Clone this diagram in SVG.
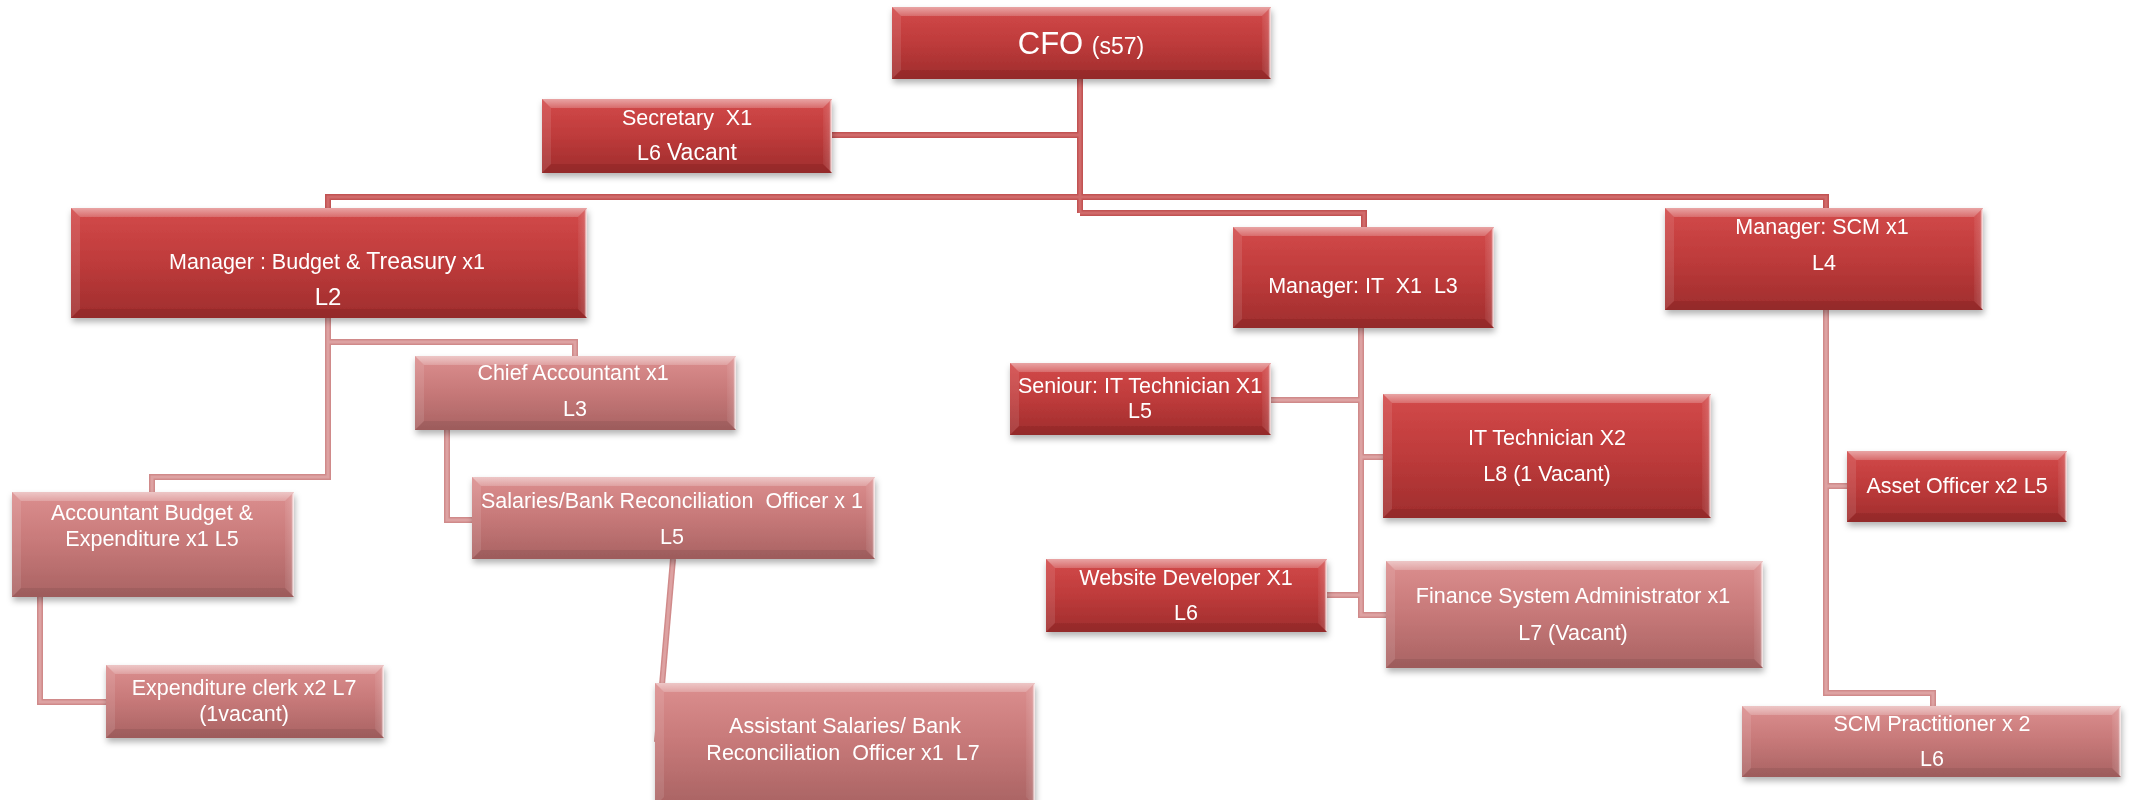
<svg xmlns="http://www.w3.org/2000/svg" xmlns:xlink="http://www.w3.org/1999/xlink" width="2132" height="800" viewBox="0 0 2132 800">
  <style>
    .face-r { fill: url(#gRed); }
    .face-p { fill: url(#gPink); }
    .bt { fill: url(#gTop); }
    .bl { fill: #ffffff; fill-opacity: 0.10; }
    .br { fill: url(#gRight); }
    .bb { fill: #000000; fill-opacity: 0.07; }
    .node { filter: url(#shadow); }
    .t { font-family: "Liberation Sans", Arial, sans-serif; font-size: 21.5px; fill: #ffffff; text-anchor: middle; }
    .big { font-size: 24px; }
    .hi-o { fill: none; stroke: #c25353; stroke-width: 6; stroke-linejoin: miter; }
    .hi-i { fill: none; stroke: #d06a6a; stroke-width: 3; }
    .lo-o { fill: none; stroke: #d08a8a; stroke-width: 6; stroke-linejoin: miter; }
    .lo-i { fill: none; stroke: #dda2a2; stroke-width: 3; }
  </style>
  <defs>
    <linearGradient id="gRed" x1="0" y1="0" x2="0" y2="1">
      <stop offset="0" stop-color="#d34a4a"/>
      <stop offset="0.5" stop-color="#be3b3b"/>
      <stop offset="1" stop-color="#9f2d2d"/>
    </linearGradient>
    <linearGradient id="gPink" x1="0" y1="0" x2="0" y2="1">
      <stop offset="0" stop-color="#dc8f8f"/>
      <stop offset="0.5" stop-color="#c67878"/>
      <stop offset="1" stop-color="#a96363"/>
    </linearGradient>
    <linearGradient id="gTop" x1="0" y1="0" x2="0" y2="1">
      <stop offset="0" stop-color="#ffffff" stop-opacity="0.5"/>
      <stop offset="1" stop-color="#ffffff" stop-opacity="0.2"/>
    </linearGradient>
    <linearGradient id="gRight" x1="0" y1="0" x2="1" y2="0">
      <stop offset="0" stop-color="#ffffff" stop-opacity="0.05"/>
      <stop offset="0.7" stop-color="#ffffff" stop-opacity="0.15"/>
      <stop offset="0.85" stop-color="#ffffff" stop-opacity="0.6"/>
      <stop offset="1" stop-color="#ffffff" stop-opacity="0.9"/>
    </linearGradient>
    <filter id="shadow" x="-5%" y="-10%" width="110%" height="130%">
      <feDropShadow dx="1" dy="4" stdDeviation="3" flood-color="#000000" flood-opacity="0.3"/>
    </filter>

    <!-- connector routes -->
    <path id="k-trunk" d="M1080,79 V213"/>
    <path id="k-sec" d="M832,135 H1080"/>
    <path id="k-bar" d="M328,208 V197 H1826 V208"/>
    <path id="k-it" d="M1080,213 H1364 V227"/>
    <path id="k-acc" d="M328,318 V477 H152 V492"/>
    <path id="k-chief" d="M328,342 H575 V356"/>
    <path id="k-sal" d="M447,430 V520 H472"/>
    <path id="k-asst" d="M673,559 L657,742"/>
    <path id="k-exp" d="M40,597 V702 H106"/>
    <path id="k-itv" d="M1361,328 V615 H1386"/>
    <path id="k-sen" d="M1271,400 H1361"/>
    <path id="k-itt" d="M1361,457 H1383"/>
    <path id="k-web" d="M1327,595 H1361"/>
    <path id="k-scm" d="M1826,310 V693 H1933 V706"/>
    <path id="k-asset" d="M1826,486 H1847"/>
  </defs>

  <rect width="2132" height="800" fill="#ffffff"/>

  <g id="connectors">
    <g class="hi-o">
      <use xlink:href="#k-trunk"/><use xlink:href="#k-sec"/><use xlink:href="#k-bar"/><use xlink:href="#k-it"/>
    </g>
    <g class="hi-i">
      <use xlink:href="#k-trunk"/><use xlink:href="#k-sec"/><use xlink:href="#k-bar"/><use xlink:href="#k-it"/>
    </g>
    <g class="lo-o">
      <use xlink:href="#k-acc"/><use xlink:href="#k-chief"/><use xlink:href="#k-sal"/><use xlink:href="#k-asst"/>
      <use xlink:href="#k-exp"/><use xlink:href="#k-itv"/><use xlink:href="#k-sen"/><use xlink:href="#k-itt"/>
      <use xlink:href="#k-web"/><use xlink:href="#k-scm"/><use xlink:href="#k-asset"/>
    </g>
    <g class="lo-i">
      <use xlink:href="#k-acc"/><use xlink:href="#k-chief"/><use xlink:href="#k-sal"/><use xlink:href="#k-asst"/>
      <use xlink:href="#k-exp"/><use xlink:href="#k-itv"/><use xlink:href="#k-sen"/><use xlink:href="#k-itt"/>
      <use xlink:href="#k-web"/><use xlink:href="#k-scm"/><use xlink:href="#k-asset"/>
    </g>
  </g>

  <!-- CFO -->
  <g id="cfo" class="node">
    <rect class="face-r" x="892" y="7" width="379" height="72"/>
    <polygon class="bt" points="892,7 1271,7 1262,16 901,16"/>
    <polygon class="bl" points="892,7 901,16 901,70 892,79"/>
    <polygon class="br" points="1262,16 1271,7 1271,79 1262,70"/>
    <polygon class="bb" points="892,79 901,70 1262,70 1271,79"/>
    <text class="t" x="1081" y="54"><tspan font-size="31">CFO </tspan><tspan font-size="23">(s57)</tspan></text>
  </g>

  <!-- Secretary -->
  <g id="secretary" class="node">
    <rect class="face-r" x="542" y="99" width="290" height="74"/>
    <polygon class="bt" points="542,99 832,99 823,108 551,108"/>
    <polygon class="bl" points="542,99 551,108 551,164 542,173"/>
    <polygon class="br" points="823,108 832,99 832,173 823,164"/>
    <polygon class="bb" points="542,173 551,164 823,164 832,173"/>
    <text class="t" x="687" y="125" xml:space="preserve">Secretary  X1</text>
    <text class="t" x="687" y="160">L6 <tspan font-size="23">Vacant</tspan></text>
  </g>

  <!-- Manager : Budget & Treasury -->
  <g id="mgr-budget" class="node">
    <rect class="face-r" x="71" y="208" width="516" height="110"/>
    <polygon class="bt" points="71,208 587,208 578,217 80,217"/>
    <polygon class="bl" points="71,208 80,217 80,309 71,318"/>
    <polygon class="br" points="578,217 587,208 587,318 578,309"/>
    <polygon class="bb" points="71,318 80,309 578,309 587,318"/>
    <text class="t" x="327" y="269">Manager : Budget &amp; <tspan font-size="23">Treasury</tspan> x1</text>
    <text class="t big" x="328" y="305">L2</text>
  </g>

  <!-- Chief Accountant -->
  <g id="chief-accountant" class="node">
    <rect class="face-p" x="415" y="356" width="321" height="74"/>
    <polygon class="bt" points="415,356 736,356 727,365 424,365"/>
    <polygon class="bl" points="415,356 424,365 424,421 415,430"/>
    <polygon class="br" points="727,365 736,356 736,430 727,421"/>
    <polygon class="bb" points="415,430 424,421 727,421 736,430"/>
    <text class="t" x="573" y="380">Chief Accountant x1</text>
    <text class="t" x="575" y="416">L3</text>
  </g>

  <!-- Salaries / Bank Reconciliation Officer -->
  <g id="salaries-officer" class="node">
    <rect class="face-p" x="472" y="477" width="403" height="82"/>
    <polygon class="bt" points="472,477 875,477 866,486 481,486"/>
    <polygon class="bl" points="472,477 481,486 481,550 472,559"/>
    <polygon class="br" points="866,486 875,477 875,559 866,550"/>
    <polygon class="bb" points="472,559 481,550 866,550 875,559"/>
    <text class="t" x="672" y="508" xml:space="preserve">Salaries/Bank Reconciliation  Officer x 1</text>
    <text class="t" x="672" y="544">L5</text>
  </g>

  <!-- Accountant Budget & Expenditure -->
  <g id="accountant-budget" class="node">
    <rect class="face-p" x="12" y="492" width="282" height="105"/>
    <polygon class="bt" points="12,492 294,492 285,501 21,501"/>
    <polygon class="bl" points="12,492 21,501 21,588 12,597"/>
    <polygon class="br" points="285,501 294,492 294,597 285,588"/>
    <polygon class="bb" points="12,597 21,588 285,588 294,597"/>
    <text class="t" x="152" y="520">Accountant Budget &amp;</text>
    <text class="t" x="152" y="546">Expenditure x1 L5</text>
  </g>

  <!-- Expenditure clerk -->
  <g id="expenditure-clerk" class="node">
    <rect class="face-p" x="106" y="665" width="278" height="73"/>
    <polygon class="bt" points="106,665 384,665 375,674 115,674"/>
    <polygon class="bl" points="106,665 115,674 115,729 106,738"/>
    <polygon class="br" points="375,674 384,665 384,738 375,729"/>
    <polygon class="bb" points="106,738 115,729 375,729 384,738"/>
    <text class="t" x="244" y="695">Expenditure clerk x2 L7</text>
    <text class="t" x="244" y="721">(1vacant)</text>
  </g>

  <!-- Assistant Salaries / Bank Reconciliation Officer -->
  <g id="assistant-salaries" class="node">
    <rect class="face-p" x="655" y="683" width="380" height="123"/>
    <polygon class="bt" points="655,683 1035,683 1026,692 664,692"/>
    <polygon class="bl" points="655,683 664,692 664,797 655,806"/>
    <polygon class="br" points="1026,692 1035,683 1035,806 1026,797"/>
    <text class="t" x="845" y="733">Assistant Salaries/ Bank</text>
    <text class="t" x="843" y="760" xml:space="preserve">Reconciliation  Officer x1  L7</text>
  </g>

  <!-- Manager: IT -->
  <g id="mgr-it" class="node">
    <rect class="face-r" x="1233" y="227" width="261" height="101"/>
    <polygon class="bt" points="1233,227 1494,227 1485,236 1242,236"/>
    <polygon class="bl" points="1233,227 1242,236 1242,319 1233,328"/>
    <polygon class="br" points="1485,236 1494,227 1494,328 1485,319"/>
    <polygon class="bb" points="1233,328 1242,319 1485,319 1494,328"/>
    <text class="t" x="1363" y="293" xml:space="preserve">Manager: IT  X1  L3</text>
  </g>

  <!-- Seniour: IT Technician -->
  <g id="senior-it-tech" class="node">
    <rect class="face-r" x="1010" y="363" width="261" height="72"/>
    <polygon class="bt" points="1010,363 1271,363 1262,372 1019,372"/>
    <polygon class="bl" points="1010,363 1019,372 1019,426 1010,435"/>
    <polygon class="br" points="1262,372 1271,363 1271,435 1262,426"/>
    <polygon class="bb" points="1010,435 1019,426 1262,426 1271,435"/>
    <text class="t" x="1140" y="393">Seniour: IT Technician X1</text>
    <text class="t" x="1140" y="418">L5</text>
  </g>

  <!-- IT Technician -->
  <g id="it-tech" class="node">
    <rect class="face-r" x="1383" y="394" width="328" height="124"/>
    <polygon class="bt" points="1383,394 1711,394 1702,403 1392,403"/>
    <polygon class="bl" points="1383,394 1392,403 1392,509 1383,518"/>
    <polygon class="br" points="1702,403 1711,394 1711,518 1702,509"/>
    <polygon class="bb" points="1383,518 1392,509 1702,509 1711,518"/>
    <text class="t" x="1547" y="445">IT Technician X2</text>
    <text class="t" x="1547" y="481">L8 (1 Vacant)</text>
  </g>

  <!-- Website Developer -->
  <g id="web-dev" class="node">
    <rect class="face-r" x="1046" y="559" width="281" height="73"/>
    <polygon class="bt" points="1046,559 1327,559 1318,568 1055,568"/>
    <polygon class="bl" points="1046,559 1055,568 1055,623 1046,632"/>
    <polygon class="br" points="1318,568 1327,559 1327,632 1318,623"/>
    <polygon class="bb" points="1046,632 1055,623 1318,623 1327,632"/>
    <text class="t" x="1186" y="585">Website Developer X1</text>
    <text class="t" x="1186" y="620">L6</text>
  </g>

  <!-- Finance System Administrator -->
  <g id="finance-sys-admin" class="node">
    <rect class="face-p" x="1386" y="561" width="377" height="107"/>
    <polygon class="bt" points="1386,561 1763,561 1754,570 1395,570"/>
    <polygon class="bl" points="1386,561 1395,570 1395,659 1386,668"/>
    <polygon class="br" points="1754,570 1763,561 1763,668 1754,659"/>
    <polygon class="bb" points="1386,668 1395,659 1754,659 1763,668"/>
    <text class="t" x="1573" y="603">Finance System Administrator x1</text>
    <text class="t" x="1573" y="640">L7 (Vacant)</text>
  </g>

  <!-- Manager: SCM -->
  <g id="mgr-scm" class="node">
    <rect class="face-r" x="1665" y="208" width="318" height="102"/>
    <polygon class="bt" points="1665,208 1983,208 1974,217 1674,217"/>
    <polygon class="bl" points="1665,208 1674,217 1674,301 1665,310"/>
    <polygon class="br" points="1974,217 1983,208 1983,310 1974,301"/>
    <polygon class="bb" points="1665,310 1674,301 1974,301 1983,310"/>
    <text class="t" x="1822" y="234">Manager: SCM x1</text>
    <text class="t" x="1824" y="270">L4</text>
  </g>

  <!-- Asset Officer -->
  <g id="asset-officer" class="node">
    <rect class="face-r" x="1847" y="451" width="220" height="71"/>
    <polygon class="bt" points="1847,451 2067,451 2058,460 1856,460"/>
    <polygon class="bl" points="1847,451 1856,460 1856,513 1847,522"/>
    <polygon class="br" points="2058,460 2067,451 2067,522 2058,513"/>
    <polygon class="bb" points="1847,522 1856,513 2058,513 2067,522"/>
    <text class="t" x="1957" y="493">Asset Officer x2 L5</text>
  </g>

  <!-- SCM Practitioner -->
  <g id="scm-practitioner" class="node">
    <rect class="face-p" x="1742" y="706" width="379" height="71"/>
    <polygon class="bt" points="1742,706 2121,706 2112,715 1751,715"/>
    <polygon class="bl" points="1742,706 1751,715 1751,768 1742,777"/>
    <polygon class="br" points="2112,715 2121,706 2121,777 2112,768"/>
    <polygon class="bb" points="1742,777 1751,768 2112,768 2121,777"/>
    <text class="t" x="1932" y="731">SCM Practitioner x 2</text>
    <text class="t" x="1932" y="766">L6</text>
  </g>
</svg>
